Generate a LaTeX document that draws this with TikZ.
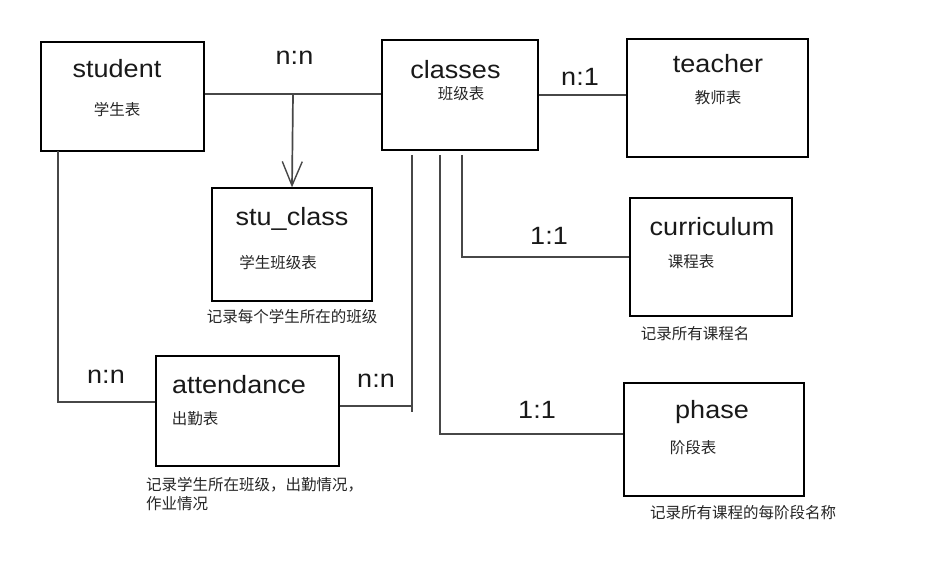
\documentclass[tikz,border=0pt]{standalone}
\usepackage{fontspec}
\setmainfont{Liberation Sans}
\newfontfamily\cjk{Noto Sans CJK SC}
\newfontfamily\latf[FakeStretch=1.08]{Liberation Sans}
\usetikzlibrary{arrows.meta,calc}
\begin{document}
\begin{tikzpicture}[x=1pt,y=-1pt,
  tbl/.style={draw=black, line width=1.3pt, rectangle, inner sep=0pt},
  ttl/.style={font=\latf\fontsize{25}{30}\selectfont, text=black!90, anchor=base, inner sep=0pt},
  sub/.style={font=\cjk\fontsize{15.5}{18}\selectfont, text=black!85, inner sep=0pt},
  rel/.style={font=\latf\fontsize{25}{30}\selectfont, text=black!90, anchor=base, inner sep=0pt},
  conn/.style={draw=black!72, line width=1.7pt}]
\useasboundingbox[fill=white] (0,0) rectangle (931,577);

% tables
\node[tbl, minimum width=163pt, minimum height=109pt] (student) at (122.5,96.5) {};
\node[tbl, minimum width=156pt, minimum height=110pt] (classes) at (460,95) {};
\node[tbl, minimum width=181pt, minimum height=118pt] (teacher) at (717.5,98) {};
\node[tbl, minimum width=160pt, minimum height=113pt] (stuclass) at (292,244.5) {};
\node[tbl, minimum width=162pt, minimum height=118pt] (curriculum) at (711,257) {};
\node[tbl, minimum width=183pt, minimum height=110pt] (attendance) at (247.5,411) {};
\node[tbl, minimum width=180pt, minimum height=113pt] (phase) at (714,439.5) {};

% titles
\node[ttl] (tstudent) at (117,78) {student};
\node[ttl] (tclasses) at (455.5,79) {classes};
\node[ttl] (tteacher) at (718,73) {teacher};
\node[ttl] (tstuclass) at (292,226) {stu\_class};
\node[ttl] (tcurr) at (712,236) {curriculum};
\node[ttl] (tatt) at (239,393) {attendance};
\node[ttl] (tphase) at (712,418) {phase};

% subtitles
\node[sub] (sstudent) at (117,110) {学生表};
\node[sub] (sclasses) at (461,94) {班级表};
\node[sub] (steacher) at (718,98) {教师表};
\node[sub] (sstuclass) at (278,263) {学生班级表};
\node[sub] (scurr) at (691,262) {课程表};
\node[sub] (satt) at (195,419) {出勤表};
\node[sub] (sphase) at (693,448) {阶段表};

% notes
\node[sub] (nstuclass) at (292,317) {记录每个学生所在的班级};
\node[sub] (ncurr) at (695,334) {记录所有课程名};
\node[sub, anchor=west] (natt1) at (146,485) {记录学生所在班级，出勤情况，};
\node[sub, anchor=west] (natt2) at (146,504) {作业情况};
\node[sub] (nphase) at (743,513) {记录所有课程的每阶段名称};

% relation labels
\node[rel] (r1) at (294.5,65) {n:n};
\node[rel] (r2) at (580,86) {n:1};
\node[rel] (r3) at (549,245) {1:1};
\node[rel] (r4) at (537,418) {1:1};
\node[rel] (r5) at (106,383) {n:n};
\node[rel] (r6) at (376,387) {n:n};

% connector anchor points
\coordinate (j1) at (293,94);
\coordinate (sx) at (58,151);
\coordinate (c1) at (412,155);
\coordinate (c2) at (462,155);
\coordinate (c3) at (440,155);

% connectors
\draw[conn] (student.east |- j1) -- (classes.west |- j1);
\draw[conn, -{Straight Barb[length=24pt,width=20pt,line width=1.4pt]}] (j1) -- (stuclass.north);
\draw[conn] (classes.east) -- (teacher.west |- classes.east);
\draw[conn] (sx) |- ($(attendance.west)+(0,-9)$);
\draw[conn] ($(attendance.east)+(0,-5)$) -| (c1);
\draw[conn] (c1) -- ($(c1 |- attendance.east)+(0,1)$);
\draw[conn] (c2) |- (curriculum.west);
\draw[conn] (c3) |- ($(phase.west)+(0,-5.5)$);
\end{tikzpicture}
\end{document}
